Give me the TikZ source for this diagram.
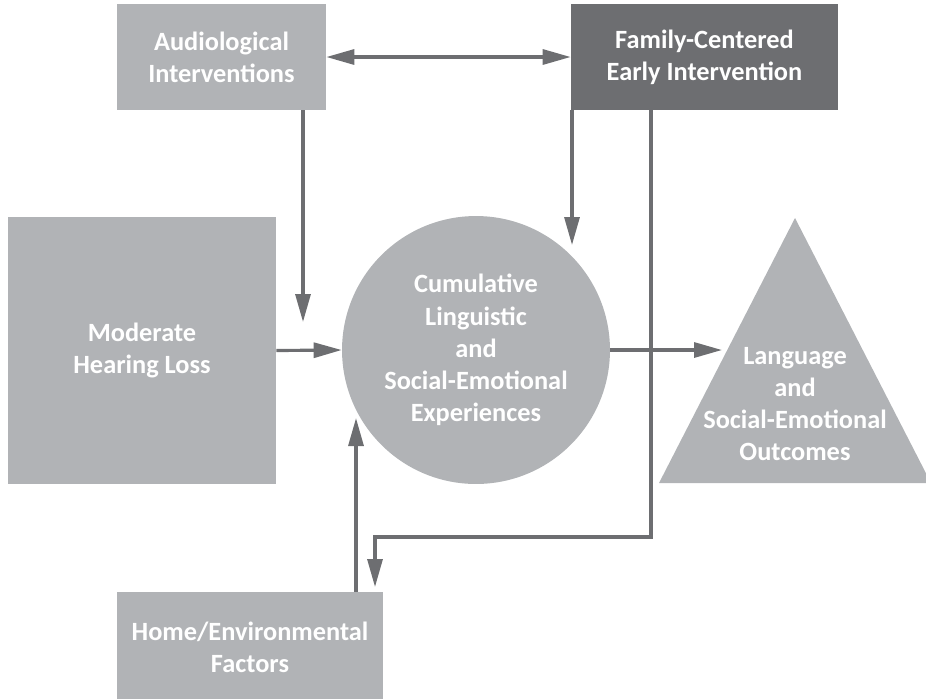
\documentclass[tikz,border=0pt]{standalone}
\usepackage{fontspec}
\setmainfont{Carlito}
\usetikzlibrary{arrows.meta}
\definecolor{lightgr}{HTML}{B1B3B6}
\definecolor{darkgr}{HTML}{6D6E71}
\begin{document}
\begin{tikzpicture}[x=0.02cm, y=-0.02cm,
        block/.style={fill=lightgr, text=white, font=\fontsize{15}{18.3}\selectfont\bfseries, align=center, inner sep=0pt},
        link/.style={draw=darkgr, line width=1.8pt, -{Triangle[length=0.56cm, width=0.3cm]}}]
        \useasboundingbox ( 0, 0 ) rectangle ( 926, 698 );

        % boxes
        \node[block, minimum width=4.18cm, minimum height=2.12cm] (aud) at ( 221.5, 57 ) {Audiological\\Interventions};
        \node[block, fill=darkgr, minimum width=5.34cm, minimum height=2.12cm] (fam) at ( 704.5, 57 ) {Family-Centered\\Early Intervention};
        \node[block, minimum width=5.36cm, minimum height=5.34cm] (mhl) at ( 142, 350.5 ) {Moderate\\Hearing Loss};
        \node[block, circle, minimum size=5.36cm] (cum) at ( 476, 350 ) {Cumulative\\Linguistic\\and\\Social-Emotional\\Experiences};
        \node[block, minimum width=5.32cm, minimum height=2.2cm] (home) at ( 250, 647 ) {Home/Environmental\\Factors};

        % triangle
        \fill[lightgr] ( 795, 218 ) -- ( 931, 483 ) -- ( 659, 483 ) -- cycle;
        \node[block, fill=none] (out) at ( 795, 404 ) {Language\\and\\Social-Emotional\\Outcomes};

        % arrow ends
        \coordinate (audin) at ( 303, 322 );
        \coordinate (famin) at ( 572, 245 );
        \coordinate (famout) at ( 651, 537 );
        \coordinate (homein) at ( 375, 587 );
        \coordinate (homeout) at ( 356, 418 );
        \coordinate (outin) at ( 722, 350 );

        % aud - fam
        \draw[link, {Triangle[length=0.56cm, width=0.3cm]}-{Triangle[length=0.56cm, width=0.3cm]}] (aud.east) -- (fam.west);
        % into cum
        \draw[link] (aud.south -| audin) -- (audin);
        \draw[link] (fam.south -| famin) -- (famin);
        \draw[link] (mhl.east) -- (cum.west);
        \draw[link] (home.north -| homeout) -- (homeout);
        % fam - home
        \draw[link] (fam.south -| famout) -- (famout) -| (homein);
        % cum - out
        \draw[link] (cum.east) -- (outin);
    \end{tikzpicture}
\end{document}
